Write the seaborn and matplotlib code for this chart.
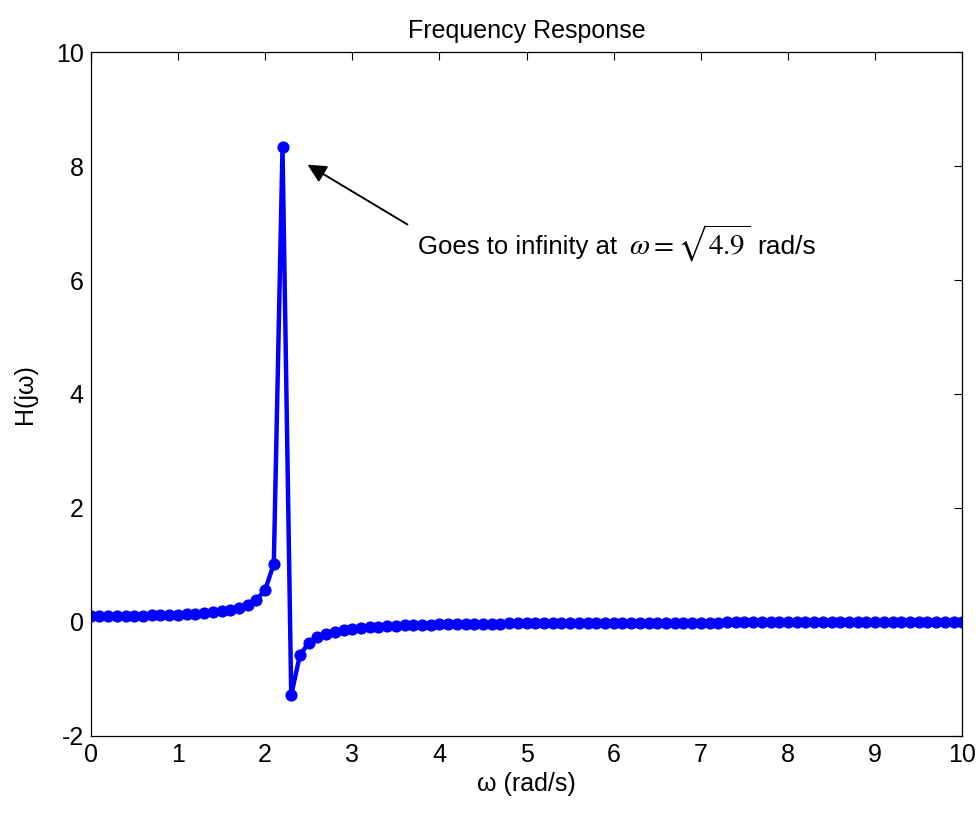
import numpy as np
import pandas as pd
import seaborn as sns
import matplotlib.pyplot as plt

# Частоты (рад/с), шаг 0.1
omega = [round(0.1 * i, 1) for i in range(101)]

# Значения H(jw)
h_vals = [
    0.102, 0.102, 0.103, 0.104, 0.105, 0.108, 0.110, 0.113, 0.117, 0.122,
    0.128, 0.136, 0.145, 0.156, 0.170, 0.189, 0.214, 0.249, 0.301, 0.388,
    0.556, 1.020, 8.333, -1.282, -0.581, -0.370, -0.269, -0.209, -0.170, -0.143,
    -0.122, -0.106, -0.094, -0.084, -0.075, -0.068, -0.062, -0.057, -0.052, -0.049,
    -0.045, -0.042, -0.039, -0.037, -0.035, -0.033, -0.031, -0.029, -0.028, -0.026,
    -0.025, -0.024, -0.023, -0.022, -0.021, -0.020, -0.019, -0.018, -0.017, -0.017,
    -0.016, -0.016, -0.015, -0.014, -0.014, -0.013, -0.013, -0.013, -0.012, -0.012,
    -0.011, -0.011, -0.011, -0.010, -0.010, -0.010, -0.010, -0.009, -0.009, -0.009,
    -0.009, -0.008, -0.008, -0.008, -0.008, -0.007, -0.007, -0.007, -0.007, -0.007,
    -0.007, -0.006, -0.006, -0.006, -0.006, -0.006, -0.006, -0.006, -0.006, -0.005,
    -0.005,
]

x_ticks = [0, 1, 2, 3, 4, 5, 6, 7, 8, 9, 10]
y_ticks = [-2, 0, 2, 4, 6, 8, 10]

df = pd.DataFrame({'omega': omega, 'H': h_vals})

sns.set_style('white')
plt.rcParams['font.family'] = ['Liberation Sans', 'DejaVu Sans']
plt.rcParams['axes.unicode_minus'] = False
plt.rcParams['text.color'] = 'black'
plt.rcParams['axes.labelcolor'] = 'black'
plt.rcParams['xtick.color'] = 'black'
plt.rcParams['ytick.color'] = 'black'

fig = plt.figure(figsize=(9.76, 8.14), dpi=100)
ax = fig.add_axes([0.093, 0.096, 0.893, 0.840])

sns.lineplot(
    data=df, x='omega', y='H',
    color='#0000ff', linewidth=3.2,
    marker='o', markersize=8, markeredgecolor='#0000ff',
    ax=ax,
)

ax.set_xlim(0, 10)
ax.set_ylim(-2, 10)
ax.set_xticks(x_ticks)
ax.set_yticks(y_ticks)
ax.tick_params(direction='in', top=True, right=True, length=6,
               width=0.8, labelsize=18, pad=5)
for s in ax.spines.values():
    s.set_linewidth(0.9)
    s.set_color('black')

ax.set_title('Frequency Response', fontsize=18, pad=10)
ax.set_xlabel('ω (rad/s)', fontsize=18, labelpad=4)
ax.set_ylabel('H(jω)', fontsize=18, labelpad=14)

# Стрелка с подписью
ax.annotate('', xy=(2.46, 8.05), xytext=(3.66, 6.95),
            arrowprops=dict(arrowstyle='-|>', color='black', lw=1.4,
                            mutation_scale=28))
t1 = ax.text(3.75, 6.45, 'Goes to infinity at', fontsize=18.5,
             va='baseline', ha='left')
t2 = ax.annotate(r'$\omega = \sqrt{4.9}$', xy=(1, 6.45),
                 xycoords=(t1, 'data'), xytext=(9, 0),
                 textcoords='offset points', fontsize=21,
                 va='baseline', ha='left', math_fontfamily='stix')
ax.annotate('rad/s', xy=(1, 6.45), xycoords=(t2, 'data'),
            xytext=(5, 0), textcoords='offset points', fontsize=19,
            va='baseline', ha='left')

fig.savefig('out.png', dpi=100)
